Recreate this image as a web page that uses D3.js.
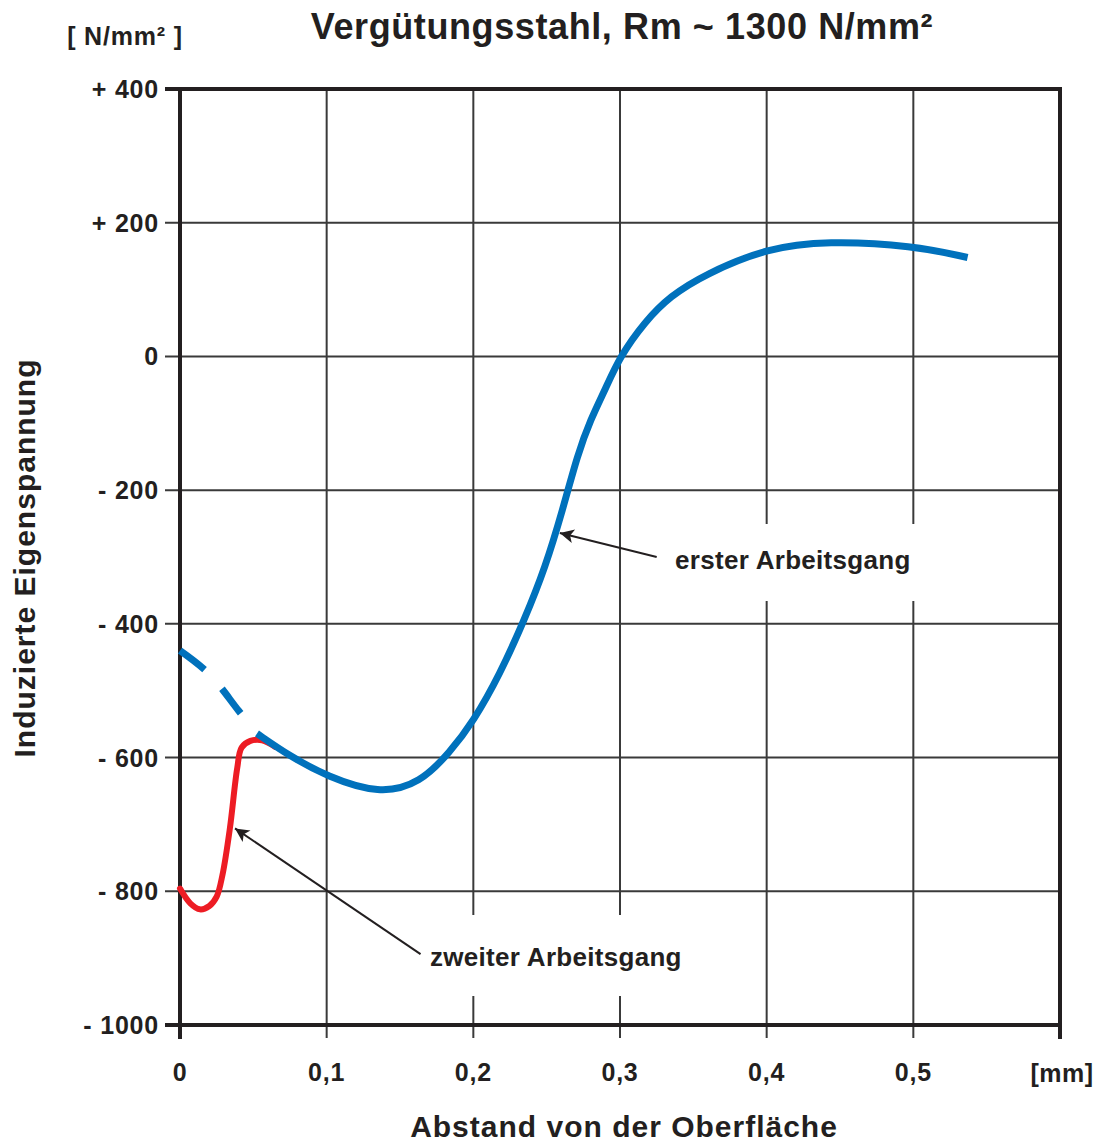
<html>
<head>
<meta charset="utf-8">
<script src="https://d3js.org/d3.v7.min.js"></script>
<style>
body { margin: 0; background: #fff; }
text { font-family: "Liberation Sans", Arial, sans-serif; font-weight: bold; fill: #231f20; }
</style>
</head>
<body>
<svg id="chart" width="1102" height="1142"></svg>
<script>
// x in mm, y in N/mm²
var xTicks = [0, 0.1, 0.2, 0.3, 0.4, 0.5]
var xTickLabels = ["0", "0,1", "0,2", "0,3", "0,4", "0,5"]
var yTicks = [400, 200, 0, -200, -400, -600, -800, -1000]
var yTickLabels = ["+ 400", "+ 200", "0", "- 200", "- 400", "- 600", "- 800", "- 1000"]

var ersterDashed = [
	[0, -440], [0.02, -475], [0.04, -530], [0.0525, -564]
]
var ersterSolid = [
	[0.0525, -564], [0.075, -598], [0.1, -628], [0.136, -655], [0.164, -638],
	[0.184, -592], [0.2, -546], [0.218, -476], [0.235, -393], [0.249, -316],
	[0.261, -229], [0.271, -147], [0.28, -94], [0.29, -49], [0.3, 0],
	[0.317, 52], [0.334, 90], [0.358, 123], [0.4, 162], [0.441, 173],
	[0.5, 166], [0.537, 148]
]
var zweiter = [
	[0, -796], [0.007, -818], [0.0136, -827], [0.02, -822], [0.025, -808],
	[0.029, -775], [0.034, -706], [0.039, -616], [0.042, -585], [0.048, -575],
	[0.056, -574], [0.065, -584]
]

var svg = d3.select("#chart")

var x = d3.scaleLinear().domain([0, 0.6]).range([180, 1060])
var y = d3.scaleLinear().domain([-1000, 400]).range([1025, 89])

var grid = svg.append("g").attr("stroke", "#3a3a3a").attr("stroke-width", 2)

grid.selectAll(".vg")
	.data(xTicks.slice(1))
	.enter().append("line")
		.attr("x1", d => x(d)).attr("x2", d => x(d))
		.attr("y1", y(400)).attr("y2", y(-1000) + 13)

grid.selectAll(".hg")
	.data(yTicks.slice(1, -1))
	.enter().append("line")
		.attr("x1", x(0) - 15).attr("x2", x(0.6))
		.attr("y1", d => y(d)).attr("y2", d => y(d))

// white boxes behind labels cut the grid
svg.append("rect").attr("x", 650).attr("y", 524).attr("width", 280).attr("height", 77).attr("fill", "#fff")
svg.append("rect").attr("x", 415).attr("y", 915).attr("width", 275).attr("height", 81).attr("fill", "#fff")

// frame
var frame = svg.append("g").attr("stroke", "#231f20").attr("stroke-width", 4).attr("fill", "none")
frame.append("line").attr("x1", x(0) - 15).attr("x2", x(0.6) + 2).attr("y1", y(400)).attr("y2", y(400))
frame.append("line").attr("x1", x(0) - 15).attr("x2", x(0.6) + 2).attr("y1", y(-1000)).attr("y2", y(-1000))
frame.append("line").attr("x1", x(0)).attr("x2", x(0)).attr("y1", y(400)).attr("y2", y(-1000) + 14)
frame.append("line").attr("x1", x(0.6)).attr("x2", x(0.6)).attr("y1", y(400)).attr("y2", y(-1000) + 14)

var line = d3.line().x(d => x(d[0])).y(d => y(d[1])).curve(d3.curveCatmullRom)
var smooth = d3.line().x(d => x(d[0])).y(d => y(d[1])).curve(d3.curveBasis)

svg.append("path").datum(zweiter)
	.attr("d", line).attr("fill", "none")
	.attr("stroke", "#ed1c24").attr("stroke-width", 6).attr("stroke-linecap", "round")

svg.append("path").datum(ersterDashed)
	.attr("d", line).attr("fill", "none")
	.attr("stroke", "#0071bc").attr("stroke-width", 7)
	.attr("stroke-dasharray", "31,26")

svg.append("path").datum(ersterSolid)
	.attr("d", smooth).attr("fill", "none")
	.attr("stroke", "#0071bc").attr("stroke-width", 7)

// arrows
svg.append("defs").append("marker")
	.attr("id", "arr").attr("viewBox", "0 0 10 10").attr("refX", 10).attr("refY", 5)
	.attr("markerWidth", 18).attr("markerHeight", 14).attr("markerUnits", "userSpaceOnUse")
	.attr("orient", "auto")
	.append("path").attr("d", "M0,0L10,5L0,10L2.5,5Z").attr("fill", "#231f20")

var arrows = [
	{ from: [0.325, -300], to: [0.259, -264] },
	{ from: [0.164, -894], to: [0.0375, -706] }
]
svg.selectAll(".arrow")
	.data(arrows)
	.enter().append("line")
		.attr("x1", d => x(d.from[0])).attr("y1", d => y(d.from[1]))
		.attr("x2", d => x(d.to[0])).attr("y2", d => y(d.to[1]))
		.attr("stroke", "#231f20").attr("stroke-width", 2)
		.attr("marker-end", "url(#arr)")

svg.append("text").attr("x", 675).attr("y", 569).attr("font-size", 26).attr("letter-spacing", 0.3).text("erster Arbeitsgang")
svg.append("text").attr("x", 430).attr("y", 966).attr("font-size", 26).attr("letter-spacing", 0.3).text("zweiter Arbeitsgang")

// tick labels
svg.selectAll(".yl")
	.data(yTicks)
	.enter().append("text")
		.attr("x", 159).attr("y", d => y(d) + 9)
		.attr("text-anchor", "end").attr("font-size", 25).attr("letter-spacing", 0.8)
		.text((d, i) => yTickLabels[i])

svg.selectAll(".xl")
	.data(xTicks)
	.enter().append("text")
		.attr("x", d => x(d)).attr("y", 1081)
		.attr("text-anchor", "middle").attr("font-size", 25).attr("letter-spacing", 0.8)
		.text((d, i) => xTickLabels[i])

svg.append("text").attr("x", 1062).attr("y", 1082).attr("text-anchor", "middle").attr("font-size", 25).attr("letter-spacing", 0.5).text("[mm]")
svg.append("text").attr("x", 125).attr("y", 45).attr("text-anchor", "middle").attr("font-size", 25).attr("letter-spacing", 0.8).text("[ N/mm² ]")

svg.append("text").attr("x", 622).attr("y", 39).attr("text-anchor", "middle").attr("font-size", 36).attr("letter-spacing", 0.6)
	.text("Vergütungsstahl, Rm ~ 1300 N/mm²")
svg.append("text").attr("x", 624).attr("y", 1137).attr("text-anchor", "middle").attr("font-size", 30).attr("letter-spacing", 1)
	.text("Abstand von der Oberfläche")
svg.append("text").attr("transform", "translate(35,558) rotate(-90)")
	.attr("text-anchor", "middle").attr("font-size", 30).attr("letter-spacing", 1)
	.text("Induzierte Eigenspannung")
</script>
</body>
</html>
